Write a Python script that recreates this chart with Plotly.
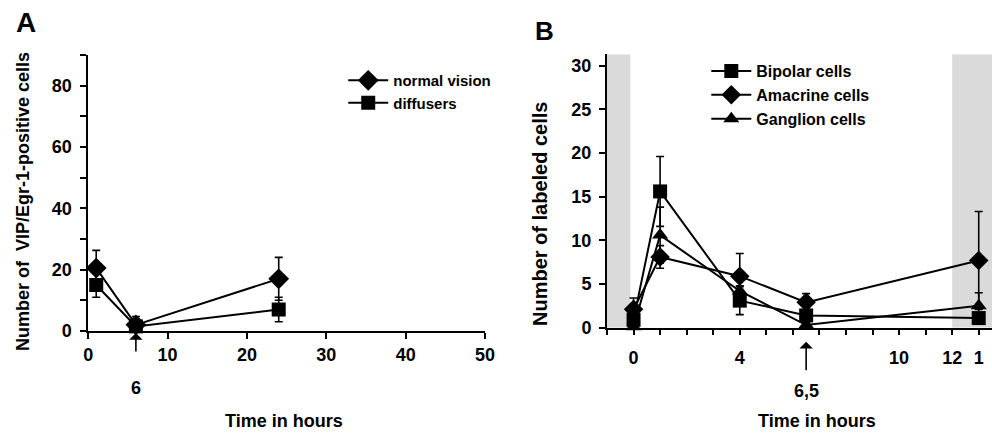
import plotly.graph_objects as go

# ---------------- data ----------------
# Panel A
a_time = [1, 6, 24]
normal_vision = [20.5, 2.0, 17.0]
normal_vision_err = [5.8, 2.7, 7.0]
diffusers = [15.0, 1.5, 7.0]
diffusers_err = [4.0, 2.5, 4.0]
a_xticks = [0, 10, 20, 30, 40, 50]
a_arrow_x = 6
a_arrow_label = "6"

# Panel B
b_time = [0, 1, 4, 6.5, 13]
bipolar = [0.9, 15.6, 3.1, 1.4, 1.1]
bipolar_err = [0.8, 4.0, 1.6, 0.6, 0.5]
amacrine = [2.1, 8.1, 5.9, 2.9, 7.7]
amacrine_err = [1.3, 1.3, 2.6, 1.0, 5.6]
ganglion = [0.1, 10.6, 4.2, 0.3, 2.5]
ganglion_err = [0.2, 3.2, 0.6, 0.3, 1.5]
b_xtickvals = [0, 4, 10, 12, 13]
b_xticktext = ["0", "4", "10", "12", "1"]
b_minor_ticks = list(range(-1, 14))
b_dark_periods = [(-1, -0.12), (12, 13.5)]
b_arrow_x = 6.5
b_arrow_label = "6,5"

FONT = "Liberation Sans, Arial, sans-serif"
BLACK = "black"

fig = go.Figure()

def err(arr):
    return dict(type="data", array=arr, visible=True, color=BLACK, thickness=1.6, width=4)

# Panel A traces
fig.add_trace(go.Scatter(x=a_time, y=normal_vision, name="normal vision", mode="lines+markers",
                         line=dict(color=BLACK, width=2),
                         marker=dict(symbol="diamond", size=16, color=BLACK),
                         error_y=err(normal_vision_err), cliponaxis=False,
                         xaxis="x", yaxis="y", legend="legend"))
fig.add_trace(go.Scatter(x=a_time, y=diffusers, name="diffusers", mode="lines+markers",
                         line=dict(color=BLACK, width=2),
                         marker=dict(symbol="square", size=14, color=BLACK),
                         error_y=err(diffusers_err), cliponaxis=False,
                         xaxis="x", yaxis="y", legend="legend"))

# Panel B traces
fig.add_trace(go.Scatter(x=b_time, y=bipolar, name="Bipolar cells", mode="lines+markers",
                         line=dict(color=BLACK, width=2),
                         marker=dict(symbol="square", size=14, color=BLACK),
                         error_y=err(bipolar_err), cliponaxis=False,
                         xaxis="x2", yaxis="y2", legend="legend2"))
fig.add_trace(go.Scatter(x=b_time, y=amacrine, name="Amacrine cells", mode="lines+markers",
                         line=dict(color=BLACK, width=2),
                         marker=dict(symbol="diamond", size=15, color=BLACK),
                         error_y=err(amacrine_err), cliponaxis=False,
                         xaxis="x2", yaxis="y2", legend="legend2"))
fig.add_trace(go.Scatter(x=b_time, y=ganglion, name="Ganglion cells", mode="lines+markers",
                         line=dict(color=BLACK, width=2),
                         marker=dict(symbol="triangle-up", size=14, color=BLACK),
                         error_y=err(ganglion_err), cliponaxis=False,
                         xaxis="x2", yaxis="y2", legend="legend2"))

# gray dark-period bands
for x0, x1 in b_dark_periods:
    fig.add_shape(type="rect", xref="x2", yref="y2", x0=x0, x1=x1, y0=0, y1=31.3,
                  fillcolor="#dadada", line=dict(width=0), layer="below")

axis_common = dict(showline=True, linecolor=BLACK, linewidth=2, ticks="outside",
                   tickcolor=BLACK, tickwidth=2, showgrid=False, zeroline=False,
                   automargin=False,
                   tickfont=dict(family=FONT, size=18, color=BLACK, weight="bold"))

fig.update_layout(
    width=992, height=433,
    margin=dict(l=0, r=0, t=0, b=0, pad=0, autoexpand=False),
    paper_bgcolor="white", plot_bgcolor="rgba(0,0,0,0)",
    font=dict(family=FONT, color=BLACK, weight="bold"),
    xaxis=dict(domain=[0.0890, 0.4889], range=[0, 50], tickvals=a_xticks, ticklen=6,
               anchor="y", **axis_common),
    yaxis=dict(domain=[0.2356, 0.8730], range=[0, 90], dtick=20, ticklen=6,
               ticklabelstandoff=5, anchor="x",
               minor=dict(dtick=10, ticks="outside", ticklen=6, tickwidth=2, tickcolor=BLACK),
               **axis_common),
    xaxis2=dict(domain=[0.6119, 1.0], range=[-1, 13.5], tickvals=b_xtickvals,
                ticktext=b_xticktext, ticklen=5, ticklabelstandoff=8, anchor="y2",
                minor=dict(tickvals=b_minor_ticks, ticks="outside", ticklen=5, tickwidth=2,
                           tickcolor=BLACK),
                **axis_common),
    yaxis2=dict(domain=[0.2432, 0.8746], range=[0, 31.3], dtick=5, ticklen=6,
                ticklabelstandoff=4, anchor="x2", **axis_common),
    legend=dict(x=0.346, y=0.852, xanchor="left", yanchor="top", bgcolor="rgba(0,0,0,0)",
                font=dict(family=FONT, size=15, color=BLACK, weight="bold"),
                itemwidth=40, tracegroupgap=0),
    legend2=dict(x=0.712, y=0.875, xanchor="left", yanchor="top", bgcolor="rgba(0,0,0,0)",
                 font=dict(family=FONT, size=16, color=BLACK, weight="bold"),
                 itemwidth=40, tracegroupgap=0),
    showlegend=True,
)

def label(text, x, y, size, xref="paper", yref="paper", angle=0):
    fig.add_annotation(text=text, x=x, y=y, xref=xref, yref=yref, showarrow=False,
                       textangle=angle, xanchor="center", yanchor="middle",
                       font=dict(family=FONT, size=size, color=BLACK, weight="bold"))

label("A", 0.0262, 0.949, 28)
label("B", 0.549, 0.928, 26)
label("Number of  VIP/Egr-1-positive cells", 0.0232, 0.5335, 18, angle=-90)
label("Number of labeled cells", 0.5444, 0.5058, 20, angle=-90)
label("Time in hours", 0.2863, 0.0277, 18)
label("Time in hours", 0.8231, 0.0277, 18)
label(a_arrow_label, a_arrow_x, 0.1039, 18, xref="x")
label(b_arrow_label, b_arrow_x, 0.097, 18, xref="x2")

# arrows marking the time points
fig.add_annotation(x=a_arrow_x, y=0, xref="x", yref="y", text="", showarrow=True,
                   ax=0, ay=22, arrowhead=1, arrowsize=1.4, arrowwidth=1.6,
                   arrowcolor=BLACK, standoff=2)
fig.add_annotation(x=b_arrow_x, y=0, xref="x2", yref="y2", text="", showarrow=True,
                   ax=0, ay=44, arrowhead=1, arrowsize=1.4, arrowwidth=1.6,
                   arrowcolor=BLACK, standoff=14)

fig.write_html(
    "out.html",
    config={"displayModeBar": False},
    post_script="document.documentElement.style.margin='0';"
                "document.body.style.margin='0';document.body.style.overflow='hidden';",
)
